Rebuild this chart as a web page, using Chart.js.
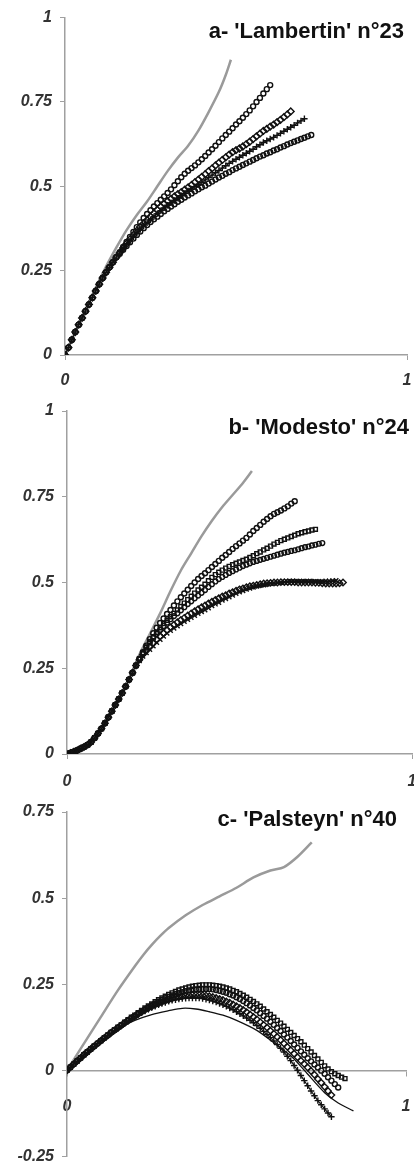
<!DOCTYPE html>
<html>
<head>
<meta charset="utf-8">
<script src="https://cdn.jsdelivr.net/npm/chart.js@4.4.1/dist/chart.umd.min.js"></script>
<style>
  body { margin: 0; width: 414px; height: 1174px; overflow: hidden; background: #fff; position: relative; font-family: "Liberation Sans", Arial, sans-serif; }
  .panel { position: absolute; left: 0; }
  .titulo { position: absolute; font-weight: bold; font-size: 22px; line-height: 22px; color: #111; white-space: nowrap; }
</style>
</head>
<body>
<div class="panel" style="top:0"><canvas id="ga" width="440" height="392"></canvas></div>
<div class="panel" style="top:392px"><canvas id="gb" width="440" height="395"></canvas></div>
<div class="panel" style="top:787px"><canvas id="gc" width="440" height="387"></canvas></div>
<div class="titulo" style="right:10px;top:20px">a- 'Lambertin' n°23</div>
<div class="titulo" style="right:5px;top:416px">b- 'Modesto' n°24</div>
<div class="titulo" style="right:17px;top:808px">c- 'Palsteyn' n°40</div>
<script>
// x grid shared by the marker series (each series uses as many steps as it has values)
const xPasos = [0, 0.01, 0.02, 0.03, 0.04, 0.05, 0.06, 0.07, 0.08, 0.09,
  0.1, 0.11, 0.12, 0.13, 0.14, 0.15, 0.16, 0.17, 0.18, 0.19,
  0.2, 0.21, 0.22, 0.23, 0.24, 0.25, 0.26, 0.27, 0.28, 0.29,
  0.3, 0.31, 0.32, 0.33, 0.34, 0.35, 0.36, 0.37, 0.38, 0.39,
  0.4, 0.41, 0.42, 0.43, 0.44, 0.45, 0.46, 0.47, 0.48, 0.49,
  0.5, 0.51, 0.52, 0.53, 0.54, 0.55, 0.56, 0.57, 0.58, 0.59,
  0.6, 0.61, 0.62, 0.63, 0.64, 0.65, 0.66, 0.67, 0.68, 0.69,
  0.7, 0.71, 0.72, 0.73, 0.74, 0.75, 0.76, 0.77, 0.78, 0.79,
  0.8, 0.81, 0.82, 0.83, 0.84];

// ---- a- Lambertin ----
const grisAx = [0, 0.03, 0.06, 0.09, 0.12, 0.15, 0.18, 0.21, 0.24, 0.27, 0.3, 0.33, 0.36, 0.39, 0.42, 0.45, 0.47, 0.485];
const grisAy = [0, 0.068, 0.135, 0.2, 0.262, 0.318, 0.37, 0.415, 0.455, 0.5, 0.545, 0.585, 0.62, 0.665, 0.72, 0.78, 0.83, 0.875];
const inicioA = [0, 0.022, 0.045, 0.068, 0.09, 0.11, 0.13, 0.15, 0.17, 0.19, 0.21, 0.228, 0.245, 0.26, 0.275, 0.29];
const a1 = inicioA.concat([0.305, 0.32, 0.335, 0.35, 0.365, 0.379, 0.393, 0.406, 0.418, 0.429,
  0.44, 0.45, 0.46, 0.47, 0.48, 0.491, 0.503, 0.515, 0.527, 0.537,
  0.546, 0.554, 0.562, 0.571, 0.58, 0.59, 0.6, 0.61, 0.62, 0.631,
  0.642, 0.652, 0.662, 0.672, 0.683, 0.693, 0.703, 0.714, 0.725, 0.737,
  0.75, 0.762, 0.775, 0.788, 0.8]);
const a2 = inicioA.concat([0.303, 0.317, 0.33, 0.343, 0.356, 0.368, 0.38, 0.39, 0.4, 0.41,
  0.42, 0.43, 0.44, 0.448, 0.456, 0.463, 0.47, 0.477, 0.483, 0.49,
  0.497, 0.504, 0.512, 0.52, 0.528, 0.536, 0.545, 0.553, 0.562, 0.57,
  0.578, 0.586, 0.594, 0.601, 0.607, 0.612, 0.618, 0.625, 0.632, 0.64,
  0.648, 0.656, 0.664, 0.67, 0.677, 0.683, 0.69, 0.697, 0.705, 0.713,
  0.722]);
const a3 = inicioA.concat([0.302, 0.315, 0.327, 0.339, 0.35, 0.361, 0.372, 0.382, 0.392, 0.401,
  0.41, 0.419, 0.428, 0.436, 0.444, 0.451, 0.458, 0.465, 0.472, 0.479,
  0.486, 0.492, 0.499, 0.505, 0.512, 0.519, 0.526, 0.533, 0.54, 0.547,
  0.554, 0.561, 0.568, 0.574, 0.58, 0.586, 0.592, 0.598, 0.604, 0.61,
  0.617, 0.623, 0.63, 0.635, 0.64, 0.645, 0.651, 0.657, 0.663, 0.669,
  0.675, 0.681, 0.688, 0.694, 0.7]);
const a4 = inicioA.concat([0.3, 0.312, 0.323, 0.334, 0.345, 0.356, 0.366, 0.376, 0.385, 0.394,
  0.402, 0.41, 0.418, 0.426, 0.433, 0.44, 0.447, 0.454, 0.46, 0.467,
  0.473, 0.479, 0.485, 0.491, 0.497, 0.502, 0.508, 0.514, 0.52, 0.526,
  0.531, 0.537, 0.542, 0.548, 0.553, 0.558, 0.563, 0.568, 0.573, 0.578,
  0.583, 0.588, 0.592, 0.597, 0.601, 0.606, 0.61, 0.615, 0.619, 0.624,
  0.628, 0.632, 0.636, 0.64, 0.644, 0.648, 0.652]);

// ---- b- Modesto ----
const grisBx = [0, 0.04, 0.08, 0.12, 0.15, 0.18, 0.21, 0.24, 0.27, 0.3, 0.33, 0.36, 0.39, 0.42, 0.45, 0.48, 0.51, 0.536];
const grisBy = [0, 0.016, 0.047, 0.107, 0.16, 0.22, 0.29, 0.35, 0.41, 0.475, 0.535, 0.585, 0.635, 0.68, 0.72, 0.755, 0.79, 0.825];
const inicioB = [0, 0.003, 0.007, 0.011, 0.016, 0.021, 0.027, 0.035, 0.047, 0.06, 0.074,
  0.09, 0.107, 0.125, 0.143, 0.16, 0.178, 0.197, 0.217, 0.237, 0.258];
const b1 = inicioB.concat([0.278, 0.297, 0.316, 0.335, 0.352, 0.368, 0.382, 0.395, 0.408, 0.42,
  0.433, 0.445, 0.457, 0.468, 0.479, 0.49, 0.5, 0.51, 0.519, 0.527,
  0.536, 0.545, 0.554, 0.563, 0.572, 0.58, 0.589, 0.598, 0.606, 0.614,
  0.622, 0.63, 0.64, 0.65, 0.659, 0.668, 0.677, 0.685, 0.693, 0.7,
  0.705, 0.71, 0.716, 0.722, 0.73, 0.737]);
const b2 = inicioB.concat([0.277, 0.295, 0.312, 0.328, 0.342, 0.355, 0.368, 0.38, 0.39, 0.4,
  0.41, 0.42, 0.43, 0.44, 0.45, 0.46, 0.469, 0.478, 0.486, 0.495,
  0.505, 0.515, 0.523, 0.53, 0.536, 0.542, 0.547, 0.552, 0.556, 0.56,
  0.564, 0.568, 0.573, 0.578, 0.584, 0.589, 0.595, 0.6, 0.606, 0.612,
  0.617, 0.622, 0.626, 0.63, 0.634, 0.638, 0.642, 0.645, 0.648, 0.65,
  0.653, 0.655]);
const b3 = inicioB.concat([0.276, 0.293, 0.31, 0.325, 0.338, 0.35, 0.362, 0.373, 0.383, 0.393,
  0.402, 0.41, 0.419, 0.428, 0.437, 0.445, 0.454, 0.462, 0.47, 0.478,
  0.487, 0.495, 0.503, 0.51, 0.516, 0.522, 0.528, 0.533, 0.538, 0.543,
  0.548, 0.552, 0.556, 0.56, 0.563, 0.566, 0.569, 0.572, 0.575, 0.578,
  0.581, 0.584, 0.587, 0.589, 0.592, 0.594, 0.597, 0.6, 0.603, 0.605,
  0.608, 0.61, 0.613, 0.615]);
const b4 = inicioB.concat([0.272, 0.285, 0.295, 0.305, 0.315, 0.325, 0.334, 0.343, 0.352, 0.36,
  0.367, 0.373, 0.38, 0.386, 0.392, 0.398, 0.404, 0.41, 0.415, 0.42,
  0.426, 0.432, 0.437, 0.442, 0.448, 0.453, 0.458, 0.463, 0.468, 0.472,
  0.476, 0.48, 0.483, 0.486, 0.489, 0.491, 0.493, 0.495, 0.497, 0.498,
  0.499, 0.5, 0.501, 0.502, 0.503, 0.503, 0.503, 0.503, 0.503, 0.503,
  0.503, 0.503, 0.503, 0.503, 0.504, 0.504, 0.505, 0.506]);
const b5 = inicioB.concat([0.275, 0.29, 0.301, 0.312, 0.323, 0.333, 0.343, 0.352, 0.361, 0.37,
  0.377, 0.384, 0.391, 0.397, 0.404, 0.41, 0.416, 0.422, 0.428, 0.433,
  0.439, 0.444, 0.449, 0.454, 0.459, 0.463, 0.468, 0.472, 0.476, 0.48,
  0.483, 0.486, 0.489, 0.491, 0.493, 0.495, 0.497, 0.498, 0.499, 0.5,
  0.5, 0.501, 0.501, 0.501, 0.501, 0.501, 0.5, 0.5, 0.5, 0.5,
  0.5, 0.499, 0.499, 0.498, 0.497, 0.497, 0.497, 0.497, 0.498, 0.5]);

// ---- c- Palsteyn ----
const grisCx = [0, 0.04, 0.1, 0.15, 0.2, 0.225, 0.25, 0.275, 0.3, 0.35, 0.4, 0.45, 0.5, 0.55, 0.6, 0.64, 0.68, 0.722];
const grisCy = [0, 0.062, 0.155, 0.232, 0.302, 0.335, 0.364, 0.39, 0.413, 0.45, 0.48, 0.505, 0.53, 0.56, 0.58, 0.59, 0.62, 0.662];
const negroCx = [0, 0.05, 0.1, 0.15, 0.2, 0.25, 0.3, 0.34, 0.38, 0.42, 0.46, 0.5, 0.56, 0.61, 0.66, 0.7, 0.76, 0.8, 0.845];
const negroCy = [0, 0.045, 0.085, 0.12, 0.145, 0.162, 0.173, 0.18, 0.178, 0.17, 0.16, 0.145, 0.116, 0.08, 0.042, 0, -0.065, -0.095, -0.118];
const c1 = [0, 0.009, 0.018, 0.027, 0.036, 0.045, 0.053, 0.062, 0.07, 0.078,
  0.086, 0.094, 0.102, 0.11, 0.117, 0.125, 0.132, 0.14, 0.147, 0.154,
  0.16, 0.167, 0.174, 0.181, 0.187, 0.193, 0.199, 0.205, 0.21, 0.215,
  0.22, 0.225, 0.229, 0.233, 0.236, 0.239, 0.242, 0.244, 0.246, 0.247,
  0.248, 0.248, 0.248, 0.247, 0.246, 0.244, 0.242, 0.239, 0.236, 0.232,
  0.228, 0.223, 0.218, 0.212, 0.206, 0.2, 0.193, 0.186, 0.178, 0.17,
  0.162, 0.154, 0.145, 0.137, 0.128, 0.119, 0.11, 0.101, 0.092, 0.083,
  0.073, 0.063, 0.053, 0.043, 0.033, 0.023, 0.013, 0.004, -0.004, -0.01,
  -0.015, -0.02, -0.024];
const c2 = [0, 0.009, 0.018, 0.027, 0.036, 0.045, 0.053, 0.062, 0.07, 0.078,
  0.086, 0.094, 0.102, 0.11, 0.117, 0.124, 0.131, 0.138, 0.145, 0.152,
  0.158, 0.165, 0.171, 0.177, 0.183, 0.189, 0.194, 0.199, 0.204, 0.209,
  0.213, 0.217, 0.221, 0.224, 0.227, 0.23, 0.232, 0.234, 0.235, 0.236,
  0.236, 0.236, 0.236, 0.235, 0.233, 0.231, 0.228, 0.225, 0.221, 0.217,
  0.212, 0.207, 0.201, 0.195, 0.188, 0.181, 0.174, 0.166, 0.158, 0.15,
  0.141, 0.132, 0.123, 0.114, 0.104, 0.095, 0.085, 0.075, 0.065, 0.055,
  0.045, 0.035, 0.026, 0.017, 0.008, -0.001, -0.01, -0.02, -0.03, -0.04,
  -0.05];
const c3 = [0, 0.009, 0.018, 0.027, 0.036, 0.045, 0.053, 0.062, 0.07, 0.078,
  0.086, 0.094, 0.101, 0.109, 0.116, 0.123, 0.13, 0.137, 0.144, 0.151,
  0.157, 0.163, 0.169, 0.175, 0.18, 0.185, 0.19, 0.194, 0.198, 0.202,
  0.205, 0.208, 0.211, 0.213, 0.215, 0.217, 0.218, 0.219, 0.219, 0.219,
  0.218, 0.217, 0.215, 0.213, 0.21, 0.207, 0.204, 0.2, 0.196, 0.191,
  0.186, 0.181, 0.175, 0.169, 0.162, 0.155, 0.148, 0.14, 0.132, 0.124,
  0.115, 0.106, 0.097, 0.088, 0.078, 0.068, 0.058, 0.048, 0.038, 0.028,
  0.018, 0.008, -0.002, -0.013, -0.025, -0.036, -0.048, -0.06, -0.072];
const c4 = [0, 0.009, 0.018, 0.026, 0.035, 0.044, 0.052, 0.061, 0.069, 0.077,
  0.085, 0.093, 0.1, 0.108, 0.115, 0.122, 0.129, 0.136, 0.143, 0.15,
  0.156, 0.162, 0.167, 0.172, 0.177, 0.182, 0.186, 0.19, 0.194, 0.197,
  0.2, 0.203, 0.205, 0.207, 0.208, 0.209, 0.21, 0.21, 0.21, 0.21,
  0.208, 0.206, 0.204, 0.201, 0.198, 0.194, 0.19, 0.186, 0.181, 0.176,
  0.17, 0.164, 0.158, 0.152, 0.145, 0.138, 0.13, 0.122, 0.113, 0.104,
  0.095, 0.085, 0.075, 0.064, 0.053, 0.041, 0.028, 0.014, 0, -0.015,
  -0.03, -0.045, -0.06, -0.074, -0.088, -0.1, -0.112, -0.124, -0.135];

const fuente = { family: '"Liberation Sans", Arial, sans-serif', size: 16, style: 'italic', weight: 'bold' };

function pts(xs, ys) {
  return ys.map((y, i) => ({ x: xs[i], y: y }));
}

function gris(xs, ys) {
  return { data: pts(xs, ys), showLine: true, borderColor: '#9a9a9a', borderWidth: 2.5, pointRadius: 0, tension: 0.3 };
}

function linea(xs, ys) {
  return { data: pts(xs, ys), showLine: true, borderColor: '#111', borderWidth: 1.3, pointRadius: 0, tension: 0.3 };
}

function marcas(ys, estilo, r, conLinea) {
  return {
    data: pts(xPasos, ys),
    showLine: !!conLinea,
    borderColor: '#111',
    borderWidth: 1.2,
    pointStyle: estilo,
    pointRadius: r,
    pointBorderColor: '#111',
    pointBorderWidth: 1.4,
    pointBackgroundColor: 'rgba(255,255,255,0)',
    tension: 0.3
  };
}

function opciones(cfg) {
  const ejeX = {
    type: 'linear', min: 0, max: 1,
    border: { color: '#a0a0a0', width: 1.5 },
    grid: { drawOnChartArea: false, drawTicks: true, tickLength: 5, color: '#a0a0a0' },
    ticks: { stepSize: 1, color: '#333', font: fuente, padding: cfg.padX }
  };
  if (cfg.ejeEnCero) {
    ejeX.position = { y: 0 };
  } else {
    ejeX.afterFit = s => { s.height = cfg.altoX; };
  }
  return {
    responsive: false,
    animation: false,
    layout: { padding: cfg.padding },
    plugins: { legend: { display: false }, tooltip: { enabled: false } },
    scales: {
      x: ejeX,
      y: {
        type: 'linear', min: cfg.yMin, max: cfg.yMax,
        border: { color: '#a0a0a0', width: 1.5 },
        grid: { drawOnChartArea: false, drawTicks: true, tickLength: 5, color: '#a0a0a0' },
        ticks: {
          stepSize: 0.25, color: '#333', font: fuente, padding: 8,
          callback: v => String(Math.round(v * 100) / 100)
        },
        afterFit: s => { s.width = cfg.anchoY; }
      }
    }
  };
}

new Chart(document.getElementById('ga'), {
  type: 'scatter',
  data: {
    datasets: [
      marcas(a1, 'circle', 2.5),
      marcas(a2, 'rectRot', 3.4),
      marcas(a3, 'cross', 3.2, true),
      marcas(a4, 'circle', 2.5),
      gris(grisAx, grisAy)
    ]
  },
  options: opciones({ yMin: 0, yMax: 1, anchoY: 65, altoX: 37, padX: 11, padding: { top: 16, right: 33, left: 0, bottom: 0 } })
});

new Chart(document.getElementById('gb'), {
  type: 'scatter',
  data: {
    datasets: [
      marcas(b1, 'circle', 2.5),
      marcas(b2, 'rect', 2.8),
      marcas(b3, 'circle', 2.4),
      marcas(b4, 'crossRot', 3.2, true),
      marcas(b5, 'rectRot', 3.2),
      gris(grisBx, grisBy)
    ]
  },
  options: opciones({ yMin: 0, yMax: 1, anchoY: 67, altoX: 33, padX: 13, padding: { top: 19, right: 28, left: 0, bottom: 0 } })
});

new Chart(document.getElementById('gc'), {
  type: 'scatter',
  data: {
    datasets: [
      marcas(c1, 'rect', 2.8),
      marcas(c2, 'circle', 2.5),
      marcas(c3, 'rectRot', 3.2),
      marcas(c4, 'cross', 3.2, true),
      linea(negroCx, negroCy),
      gris(grisCx, grisCy)
    ]
  },
  options: opciones({ yMin: -0.25, yMax: 0.75, anchoY: 67, ejeEnCero: true, padX: 22, padding: { top: 25, right: 34, left: 0, bottom: 7 } })
});
</script>
</body>
</html>
